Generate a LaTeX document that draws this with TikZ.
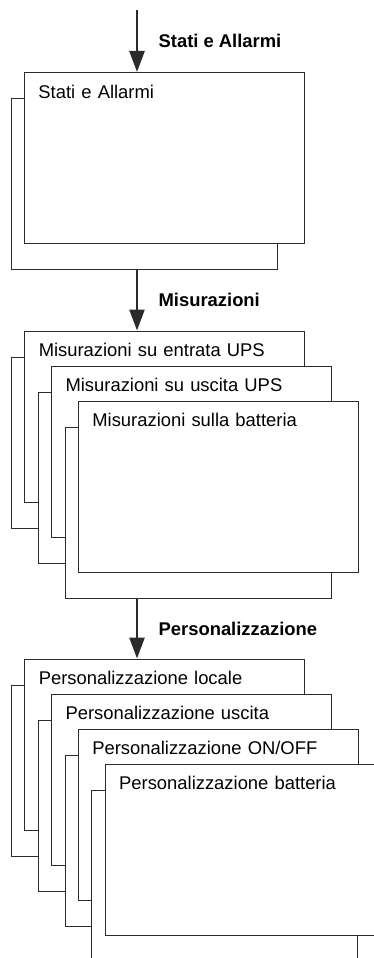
\documentclass[tikz,border=0pt]{standalone}
\usepackage{fontspec}
\setmainfont{Liberation Sans}
\usetikzlibrary{arrows.meta, positioning}
\definecolor{ink}{HTML}{2B2B2B}

\begin{document}
\begin{tikzpicture}[
  x=1pt, y=1pt,
  font=\fontsize{18.4}{22}\selectfont,
  scr/.style={draw=ink, fill=white, line width=.9pt, anchor=north west,
              align=left, text width=252pt, inner xsep=14pt, inner ysep=0pt,
              text height=25.6pt, text depth=145.4pt},
  bk/.style={draw=ink, fill=white, line width=.9pt, anchor=north west,
             minimum width=266pt, minimum height=171pt, inner sep=0pt},
  ar/.style={draw=ink, line width=2.6pt, -{Triangle[length=21pt, width=15pt]}},
  tag/.style={font=\fontsize{18.4}{22}\selectfont\bfseries, right=17pt}]

\useasboundingbox (0,0) rectangle (374,-958);
\coordinate (top) at (137,-10);

% stati e allarmi
\node[bk] (a0) at (11,-98) {};
\node[scr, xshift=13pt, yshift=26pt] (s0) at (a0.north west) {Stati e Allarmi};

% misurazioni
\node[bk] (b1) at (11,-357) {};
\node[scr, xshift=13.3pt, yshift=26.5pt] (m1) at (b1.north west) {Misurazioni su entrata UPS};
\node[bk, xshift=26.8pt, yshift=-35pt] (b2) at (b1.north west) {};
\node[scr, xshift=13.3pt, yshift=26.5pt] (m2) at (b2.north west) {Misurazioni su uscita UPS};
\node[bk, xshift=26.8pt, yshift=-35pt] (b3) at (b2.north west) {};
\node[scr, xshift=13.3pt, yshift=26.5pt] (m3) at (b3.north west) {Misurazioni sulla batteria};

% personalizzazione
\node[bk] (c1) at (11,-685) {};
\node[scr, xshift=13.3pt, yshift=26.5pt] (p1) at (c1.north west) {Personalizzazione locale};
\node[bk, xshift=26.8pt, yshift=-35pt] (c2) at (c1.north west) {};
\node[scr, xshift=13.3pt, yshift=26.5pt] (p2) at (c2.north west) {Personalizzazione uscita};
\node[bk, xshift=26.8pt, yshift=-35pt] (c3) at (c2.north west) {};
\node[scr, xshift=13.3pt, yshift=26.5pt] (p3) at (c3.north west) {Personalizzazione ON/OFF};
\node[bk, xshift=26.8pt, yshift=-35pt] (c4) at (c3.north west) {};
\node[scr, xshift=13.3pt, yshift=26.5pt] (p4) at (c4.north west) {Personalizzazione batteria};

\draw[ar] (top) -- node[tag]{Stati e Allarmi} (top |- s0.north);
\draw[ar] (top |- a0.south) -- node[tag]{Misurazioni} (top |- m1.north);
\draw[ar] (top |- b3.south) -- node[tag]{Personalizzazione} (top |- p1.north);
\end{tikzpicture}
\end{document}
